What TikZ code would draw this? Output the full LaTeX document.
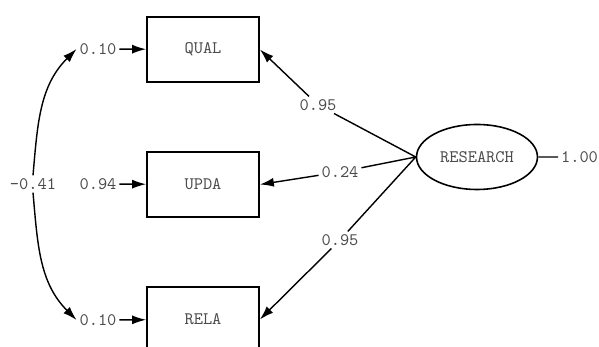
\documentclass[tikz,border=0pt]{standalone}
\usetikzlibrary{arrows.meta,shapes.geometric}
\begin{document}
\begin{tikzpicture}[font=\ttfamily\fontsize{10}{12}\selectfont, text=black!70,
  obs/.style={draw=black, line width=1pt, minimum width=2.24cm, minimum height=1.3cm},
  lat/.style={draw=black, ellipse, line width=0.9pt, minimum width=2.24cm, minimum height=1.3cm},
  num/.style={inner sep=1.5pt},
  >={Latex[length=2.8mm,width=1.8mm]}]
  \useasboundingbox (0,0) rectangle (11.98,6.94);
  % indicators and factor
  \draw (4.06,5.95) node (qual) [obs] {QUAL}
        (4.06,3.25) node (upda) [obs] {UPDA}
        (4.06,0.55) node (rela) [obs] {RELA}
        (9.54,3.80) node (research) [lat] {RESEARCH};
  % error terms
  \draw (1.96,5.96) node (eq) [num] {0.10}
        (1.96,3.26) node (eu) [num] {0.94}
        (1.96,0.54) node (er) [num] {0.10}
        (0.66,3.26) node (cov) [num] {-0.41}
        (11.59,3.80) node (var) [num] {1.00};
  % loadings
  \draw (6.36,4.84) node (lq) [num] {0.95}
        (6.80,3.50) node (lu) [num] {0.24}
        (6.80,2.14) node (lr) [num] {0.95};
  \draw[line width=0.8pt] (research.west) -- (lq)
                          (research.west) -- (lu)
                          (research.west) -- (lr)
                          (research) -- (var);
  \draw[line width=0.8pt, ->] (lq) edge (qual.east)
                              (lu) edge (upda.east)
                              (lr) edge (rela.east)
                              (eq) edge (qual)
                              (eu) edge (upda)
                              (er) edge (rela);
  \draw[line width=0.8pt, ->] (cov.north) to[out=85, in=225] (eq.west);
  \draw[line width=0.8pt, ->] (cov.south) to[out=-85, in=135] (er.west);
\end{tikzpicture}
\end{document}
